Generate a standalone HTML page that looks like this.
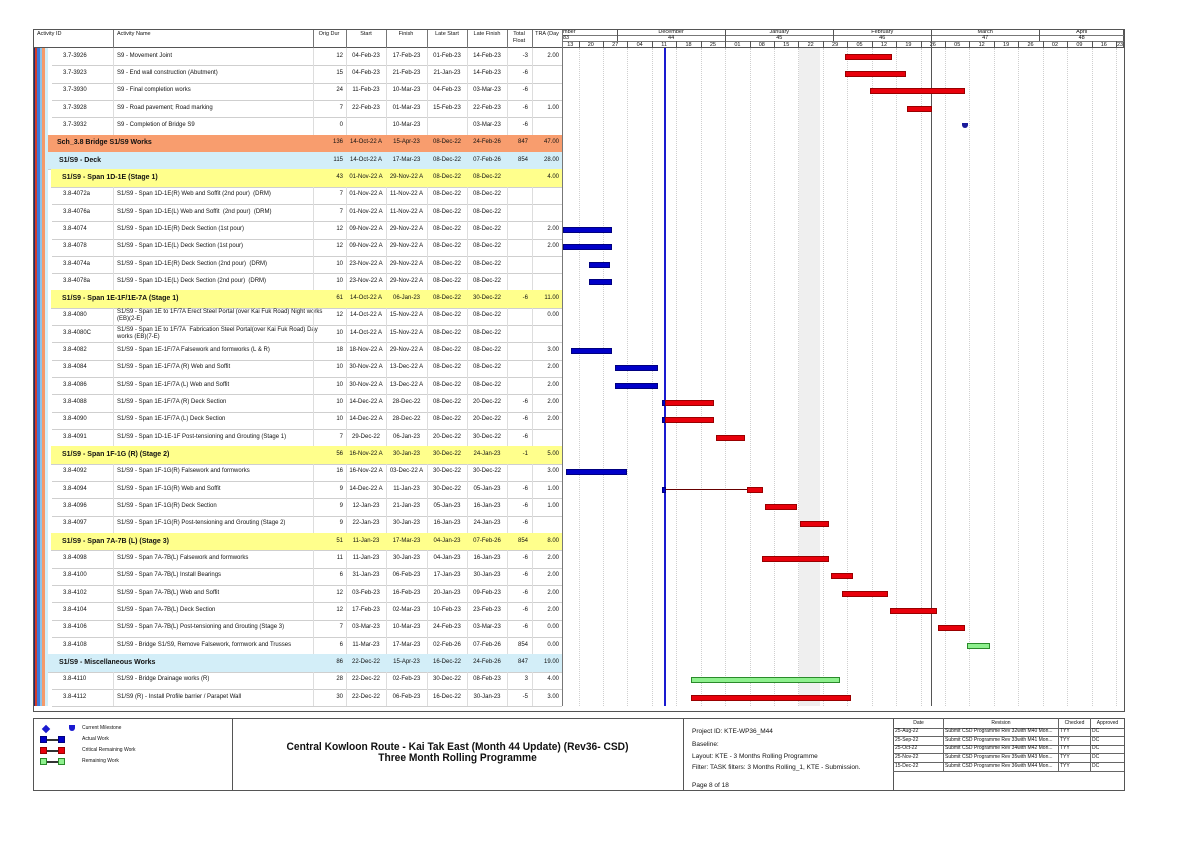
<!DOCTYPE html>
<html><head><meta charset="utf-8">
<style>
*{box-sizing:border-box;margin:0;padding:0}
body{width:1191px;height:842px;background:#fff;position:relative;overflow:hidden;font-family:"Liberation Sans",sans-serif;color:#111}
.a{position:absolute}
.t{position:absolute;font-size:6px;white-space:nowrap;line-height:7px}
.vl{position:absolute;width:1px;background:#bbb}
.hl{position:absolute;height:1px;background:#ccc}
.bar{position:absolute;height:6px}
.red{background:#e8000b;border:1px solid #900}
.blu{background:#0000c8;border:1px solid #000080}
.grn{background:#8ef08e;border:1px solid #2a8a2a}
</style></head><body>
<div id="root"></div>
<script>
const R=document.getElementById('root');
function add(h){R.insertAdjacentHTML('beforeend',h)}
const L=33,RT=1124,TOP=29,HB=48,RH=17.32,GX=562;
const cols=[33,113,313,346,386,427,467,507,532,562];
add(`<div class="a" style="left:${L}px;top:${TOP}px;width:${RT-L}px;height:${HB-TOP}px;border:1px solid #555;border-bottom:1px solid #555;background:#fff"></div>`);
const heads=[["Activity ID",37,'l'],["Activity Name",117,'l'],["Orig Dur",329,'c'],["Start",366,'c'],["Finish",406,'c'],["Late Start",447,'c'],["Late Finish",487,'c'],["Total",519,'c'],["TRA (Day",547,'c']];
heads.forEach(h=>{let x=h[2]=='c'?`left:${h[1]-25}px;width:50px;text-align:center`:`left:${h[1]}px`;add(`<div class="t" style="${x};top:31px;font-size:5.5px">${h[0]}</div>`)});
add(`<div class="t" style="left:494px;width:50px;text-align:center;top:38px;font-size:5.5px">Float</div>`);
for(let i=1;i<cols.length;i++)add(`<div class="vl" style="left:${cols[i]}px;top:${TOP}px;height:${HB-TOP}px;background:#777"></div>`);
const px=d=>617+d*3.49;
add(`<div class="hl" style="left:${GX}px;top:35px;width:${RT-GX}px;background:#777"></div>`);
add(`<div class="hl" style="left:${GX}px;top:41px;width:${RT-GX}px;background:#777"></div>`);
const months=[["mber",-30,0,"83"],["December",0,31,"44"],["January",31,62,"45"],["February",62,90,"46"],["March",90,121,"47"],["April",121,152,"48"]];
months.forEach(m=>{let a=Math.max(GX,px(m[1])),b=Math.min(RT,px(m[2]));
 if(m[0]=="mber"){add(`<div class="t" style="left:563px;top:29px;font-size:5.5px">mber</div><div class="t" style="left:563px;top:35px;font-size:5.5px">83</div>`)}
 else{add(`<div class="t" style="left:${a}px;width:${b-a}px;text-align:center;top:29px;font-size:5.5px">${m[0]}</div><div class="t" style="left:${a}px;width:${b-a}px;text-align:center;top:35px;font-size:5.5px">${m[3]}</div>`)}
 if(px(m[1])>GX)add(`<div class="vl" style="left:${px(m[1])}px;top:${TOP}px;height:12px;background:#555"></div>`);
});
const wl=["13","20","27","04","11","18","25","01","08","15","22","29","05","12","19","26","05","12","19","26","02","09","16","23"];
for(let k=0;k<24;k++){let d=-18+7*k,a=px(d);let lx=Math.max(a,GX);
 add(`<div class="t" style="left:${lx}px;width:${Math.min(a+24.4,RT)-lx}px;text-align:center;top:42px;font-size:5.5px">${wl[k]}</div>`);
 if(a>GX)add(`<div class="vl" style="left:${a}px;top:41px;height:7px;background:#555"></div>`);
 if(a>GX&&a<RT)add(`<div class="a" style="left:${a}px;top:${HB}px;height:${706-HB}px;border-left:1px dotted #cfcfcf"></div>`);
}
add(`<div class="a" style="left:799px;top:${HB}px;width:21px;height:${706-HB}px;background:#efefef"></div>`);
const rows=[
["r","3.7-3926","S9 - Movement Joint","12","04-Feb-23","17-Feb-23","01-Feb-23","14-Feb-23","-3","2.00"],
["r","3.7-3923","S9 - End wall construction (Abutment)","15","04-Feb-23","21-Feb-23","21-Jan-23","14-Feb-23","-6",""],
["r","3.7-3930","S9 - Final completion works","24","11-Feb-23","10-Mar-23","04-Feb-23","03-Mar-23","-6",""],
["r","3.7-3928","S9 - Road pavement; Road marking","7","22-Feb-23","01-Mar-23","15-Feb-23","22-Feb-23","-6","1.00"],
["r","3.7-3932","S9 - Completion of Bridge S9","0","","10-Mar-23","","03-Mar-23","-6",""],
["o","","Sch_3.8 Bridge S1/S9 Works","136","14-Oct-22 A","15-Apr-23","08-Dec-22","24-Feb-26","847","47.00"],
["b","","S1/S9 - Deck","115","14-Oct-22 A","17-Mar-23","08-Dec-22","07-Feb-26","854","28.00"],
["y","","S1/S9 - Span 1D-1E (Stage 1)","43","01-Nov-22 A","29-Nov-22 A","08-Dec-22","08-Dec-22","","4.00"],
["r","3.8-4072a","S1/S9 - Span 1D-1E(R) Web and Soffit (2nd pour)&nbsp; (DRM)","7","01-Nov-22 A","11-Nov-22 A","08-Dec-22","08-Dec-22","",""],
["r","3.8-4076a","S1/S9 - Span 1D-1E(L) Web and Soffit&nbsp; (2nd pour)&nbsp; (DRM)","7","01-Nov-22 A","11-Nov-22 A","08-Dec-22","08-Dec-22","",""],
["r","3.8-4074","S1/S9 - Span 1D-1E(R) Deck Section (1st pour)","12","09-Nov-22 A","29-Nov-22 A","08-Dec-22","08-Dec-22","","2.00"],
["r","3.8-4078","S1/S9 - Span 1D-1E(L) Deck Section (1st pour)","12","09-Nov-22 A","29-Nov-22 A","08-Dec-22","08-Dec-22","","2.00"],
["r","3.8-4074a","S1/S9 - Span 1D-1E(R) Deck Section (2nd pour)&nbsp; (DRM)","10","23-Nov-22 A","29-Nov-22 A","08-Dec-22","08-Dec-22","",""],
["r","3.8-4078a","S1/S9 - Span 1D-1E(L) Deck Section (2nd pour)&nbsp; (DRM)","10","23-Nov-22 A","29-Nov-22 A","08-Dec-22","08-Dec-22","",""],
["y","","S1/S9 - Span 1E-1F/1E-7A (Stage 1)","61","14-Oct-22 A","06-Jan-23","08-Dec-22","30-Dec-22","-6","11.00"],
["r","3.8-4080","S1/S9 - Span 1E to 1F/7A Erect Steel Portal (over Kai Fuk Road) Night works<br>(EB)(2-E)","12","14-Oct-22 A","15-Nov-22 A","08-Dec-22","08-Dec-22","","0.00"],
["r","3.8-4080C","S1/S9 - Span 1E to 1F/7A&nbsp; Fabrication Steel Portal(over Kai Fuk Road) Day<br>works (EB)(7-E)","10","14-Oct-22 A","15-Nov-22 A","08-Dec-22","08-Dec-22","",""],
["r","3.8-4082","S1/S9 - Span 1E-1F/7A Falsework and formworks (L &amp; R)","18","18-Nov-22 A","29-Nov-22 A","08-Dec-22","08-Dec-22","","3.00"],
["r","3.8-4084","S1/S9 - Span 1E-1F/7A (R) Web and Soffit","10","30-Nov-22 A","13-Dec-22 A","08-Dec-22","08-Dec-22","","2.00"],
["r","3.8-4086","S1/S9 - Span 1E-1F/7A (L) Web and Soffit","10","30-Nov-22 A","13-Dec-22 A","08-Dec-22","08-Dec-22","","2.00"],
["r","3.8-4088","S1/S9 - Span 1E-1F/7A (R) Deck Section","10","14-Dec-22 A","28-Dec-22","08-Dec-22","20-Dec-22","-6","2.00"],
["r","3.8-4090","S1/S9 - Span 1E-1F/7A (L) Deck Section","10","14-Dec-22 A","28-Dec-22","08-Dec-22","20-Dec-22","-6","2.00"],
["r","3.8-4091","S1/S9 - Span 1D-1E-1F Post-tensioning and Grouting (Stage 1)","7","29-Dec-22","06-Jan-23","20-Dec-22","30-Dec-22","-6",""],
["y","","S1/S9 - Span 1F-1G (R) (Stage 2)","56","16-Nov-22 A","30-Jan-23","30-Dec-22","24-Jan-23","-1","5.00"],
["r","3.8-4092","S1/S9 - Span 1F-1G(R) Falsework and formworks","16","16-Nov-22 A","03-Dec-22 A","30-Dec-22","30-Dec-22","","3.00"],
["r","3.8-4094","S1/S9 - Span 1F-1G(R) Web and Soffit","9","14-Dec-22 A","11-Jan-23","30-Dec-22","05-Jan-23","-6","1.00"],
["r","3.8-4096","S1/S9 - Span 1F-1G(R) Deck Section","9","12-Jan-23","21-Jan-23","05-Jan-23","16-Jan-23","-6","1.00"],
["r","3.8-4097","S1/S9 - Span 1F-1G(R) Post-tensioning and Grouting (Stage 2)","9","22-Jan-23","30-Jan-23","16-Jan-23","24-Jan-23","-6",""],
["y","","S1/S9 - Span 7A-7B (L) (Stage 3)","51","11-Jan-23","17-Mar-23","04-Jan-23","07-Feb-26","854","8.00"],
["r","3.8-4098","S1/S9 - Span 7A-7B(L) Falsework and formworks","11","11-Jan-23","30-Jan-23","04-Jan-23","16-Jan-23","-6","2.00"],
["r","3.8-4100","S1/S9 - Span 7A-7B(L) Install Bearings","6","31-Jan-23","06-Feb-23","17-Jan-23","30-Jan-23","-6","2.00"],
["r","3.8-4102","S1/S9 - Span 7A-7B(L) Web and Soffit","12","03-Feb-23","16-Feb-23","20-Jan-23","09-Feb-23","-6","2.00"],
["r","3.8-4104","S1/S9 - Span 7A-7B(L) Deck Section","12","17-Feb-23","02-Mar-23","10-Feb-23","23-Feb-23","-6","2.00"],
["r","3.8-4106","S1/S9 - Span 7A-7B(L) Post-tensioning and Grouting (Stage 3)","7","03-Mar-23","10-Mar-23","24-Feb-23","03-Mar-23","-6","0.00"],
["r","3.8-4108","S1/S9 - Bridge S1/S9, Remove Falsework, formwork and Trusses","6","11-Mar-23","17-Mar-23","02-Feb-26","07-Feb-26","854","0.00"],
["b","","S1/S9 - Miscellaneous Works","86","22-Dec-22","15-Apr-23","16-Dec-22","24-Feb-26","847","19.00"],
["r","3.8-4110","S1/S9 - Bridge Drainage works (R)","28","22-Dec-22","02-Feb-23","30-Dec-22","08-Feb-23","3","4.00"],
["r","3.8-4112","S1/S9 (R) - Install Profile barrier / Parapet Wall","30","22-Dec-22","06-Feb-23","16-Dec-22","30-Jan-23","-5","3.00"]];
const bg={o:"#f89d6e",b:"#d3eef8",y:"#ffff8c"};
const bl={o:45,b:48,y:51,r:52};
rows.forEach((r,i)=>{
 const y=HB+i*RH, c=y+RH/2;
 if(r[0]!='r'){
  add(`<div class="a" style="left:${bl[r[0]]}px;top:${y}px;width:${GX-bl[r[0]]}px;height:${RH}px;background:${bg[r[0]]}"></div>`);
  const ix={o:57,b:59,y:62}[r[0]];
  add(`<div class="t" style="left:${ix}px;top:${c-4}px;font-size:7px;font-weight:bold;line-height:8px">${r[2]}</div>`);
 } else {
  add(`<div class="t" style="left:63px;top:${c-4}px">${r[1]}</div>`);
  const two=r[2].includes('<br>');
  add(`<div class="t" style="left:117px;top:${two?c-7:c-4}px">${r[2]}</div>`);
  [1,2,3,4,5,6,7,8].forEach(k=>add(`<div class="vl" style="left:${cols[k]}px;top:${y}px;height:${RH}px;background:#ddd"></div>`));
 }
 add(`<div class="hl" style="left:${bl[r[0]]}px;top:${y+RH}px;width:${GX-bl[r[0]]}px;background:#cfcfcf"></div>`);
 add(`<div class="t" style="left:${cols[2]}px;width:${cols[3]-cols[2]-3}px;text-align:right;top:${c-4}px">${r[3]}</div>`);
 for(let k=4;k<=7;k++) add(`<div class="t" style="left:${cols[k-1]}px;width:${cols[k]-cols[k-1]}px;text-align:center;top:${c-4}px">${r[k]}</div>`);
 add(`<div class="t" style="left:${cols[7]}px;width:${cols[8]-cols[7]-4}px;text-align:right;top:${c-4}px">${r[8]}</div>`);
 add(`<div class="t" style="left:${cols[8]}px;width:${cols[9]-cols[8]-3}px;text-align:right;top:${c-4}px">${r[9]}</div>`);
});
[[33,2,"#1d2a6e"],[35,2,"#d23a2a"],[37,3,"#3b78d8"],[40,2,"#8ec4ea"],[42,3,"#f59a6a"],[45,3,"#d3eef8"]].forEach(s=>add(`<div class="a" style="left:${s[0]}px;top:${HB}px;width:${s[1]}px;height:${706-HB}px;background:${s[2]}"></div>`));
add(`<div class="vl" style="left:${GX}px;top:${TOP}px;height:${706-TOP}px;background:#777"></div>`);
add(`<div class="a" style="left:${L}px;top:${TOP}px;width:${RT-L+1}px;height:${712-TOP}px;border:1px solid #555"></div>`);
add(`<div class="a" style="left:664px;top:${HB}px;width:2px;height:${706-HB}px;background:#1a1ad0"></div>`);
add(`<div class="vl" style="left:931px;top:${TOP}px;height:${706-TOP}px;background:#555"></div>`);
const bars=[[0,845,892,'red'],[1,845,906,'red'],[2,870,965,'red'],[3,907,932,'red'],
[10,563,612,'blu'],[11,563,612,'blu'],[12,589,610,'blu'],[13,589,612,'blu'],
[17,571,612,'blu'],[18,615,658,'blu'],[19,615,658,'blu'],
[20,662,666,'blu'],[20,665,714,'red'],[21,662,666,'blu'],[21,665,714,'red'],[22,716,745,'red'],
[24,566,627,'blu'],[25,662,666,'blu'],[25,747,763,'red'],[26,765,797,'red'],[27,800,829,'red'],
[29,762,829,'red'],[30,831,853,'red'],[31,842,888,'red'],[32,890,937,'red'],[33,938,965,'red'],
[34,967,990,'grn'],[36,691,840,'grn'],[37,691,851,'red']];
bars.forEach(b=>{const c=HB+b[0]*RH+RH/2;add(`<div class="bar ${b[3]}" style="left:${b[1]}px;top:${c-3}px;width:${b[2]-b[1]}px"></div>`)});
add(`<div class="a" style="left:666px;top:${HB+25*RH+RH/2-0.5}px;width:81px;height:1px;background:#600"></div>`);
{const c=HB+4*RH+RH/2;add(`<div class="a" style="left:962px;top:${c-3}px;width:6px;height:5px;background:#1a1a9a;border-radius:0 0 3px 3px"></div>`)}
add(`<div class="a" style="left:${L}px;top:718px;width:${RT-L+1}px;height:73px;border:1px solid #555"></div>`);
[232,683,893].forEach(x=>add(`<div class="vl" style="left:${x}px;top:718px;height:73px;background:#555"></div>`));
add(`<div class="a" style="left:43px;top:726px;width:6px;height:6px;background:#1a1ad0;transform:rotate(45deg)"></div>`);
add(`<div class="a" style="left:69px;top:725px;width:6px;height:6px;background:#1a1ad0;border-radius:0 0 3px 3px"></div>`);
add(`<div class="t" style="left:82px;top:725px;font-size:5px">Current Milestone</div>`);
[["blu","Actual Work",736],["red","Critical Remaining Work",747],["grn","Remaining Work",758]].forEach(l=>{
 add(`<div class="a ${l[0]}" style="left:40px;top:${l[2]}px;width:7px;height:7px"></div><div class="a" style="left:47px;top:${l[2]+3}px;width:18px;height:1.5px;background:#333"></div><div class="a ${l[0]}" style="left:58px;top:${l[2]}px;width:7px;height:7px"></div><div class="t" style="left:82px;top:${l[2]}px;font-size:5px">${l[1]}</div>`)});
add(`<div class="t" style="left:232px;width:451px;text-align:center;top:741px;font-size:11px;line-height:13px;font-weight:bold;transform:scaleX(0.93)">Central Kowloon Route - Kai Tak East (Month 44 Update) (Rev36- CSD)</div>`);
add(`<div class="t" style="left:232px;width:451px;text-align:center;top:752px;font-size:11px;line-height:13px;font-weight:bold;transform:scaleX(0.93)">Three Month Rolling Programme</div>`);
[["Project ID: KTE-WP36_M44",728],["Baseline:",741],["Layout: KTE - 3 Months Rolling Programme",753],["Filter: TASK filters: 3 Months Rolling_1, KTE - Submission.",764],["Page 8 of 18",782]].forEach(p=>add(`<div class="t" style="left:692px;top:${p[1]}px;font-size:6.5px;line-height:8px">${p[0]}</div>`));
const rc=[893,943,1058,1090,1124];
const rr=[["Date","Revision","Checked","Approved"],["25-Aug-22","Submit CSD Programme Rev 32with M40 Mon...","TYY","DC"],["25-Sep-22","Submit CSD Programme Rev 33with M41 Mon...","TYY","DC"],["25-Oct-22","Submit CSD Programme Rev 34with M42 Mon...","TYY","DC"],["25-Nov-22","Submit CSD Programme Rev 35with M43 Mon...","TYY","DC"],["15-Dec-22","Submit CSD Programme Rev 36with M44 Mon...","TYY","DC"]];
rr.forEach((r,i)=>{const y=719+i*8.6;
 r.forEach((s,k)=>add(`<div class="t" style="left:${rc[k]+2}px;width:${rc[k+1]-rc[k]-3}px;${i==0?'text-align:center;':''}top:${y+0.5}px;font-size:5px">${s}</div>`));
 add(`<div class="hl" style="left:893px;top:${y+8.6}px;width:231px;background:#666"></div>`);});
[943,1058,1090].forEach(x=>add(`<div class="vl" style="left:${x}px;top:718px;height:${6*8.6+1}px;background:#666"></div>`));
</script>
</body></html>
